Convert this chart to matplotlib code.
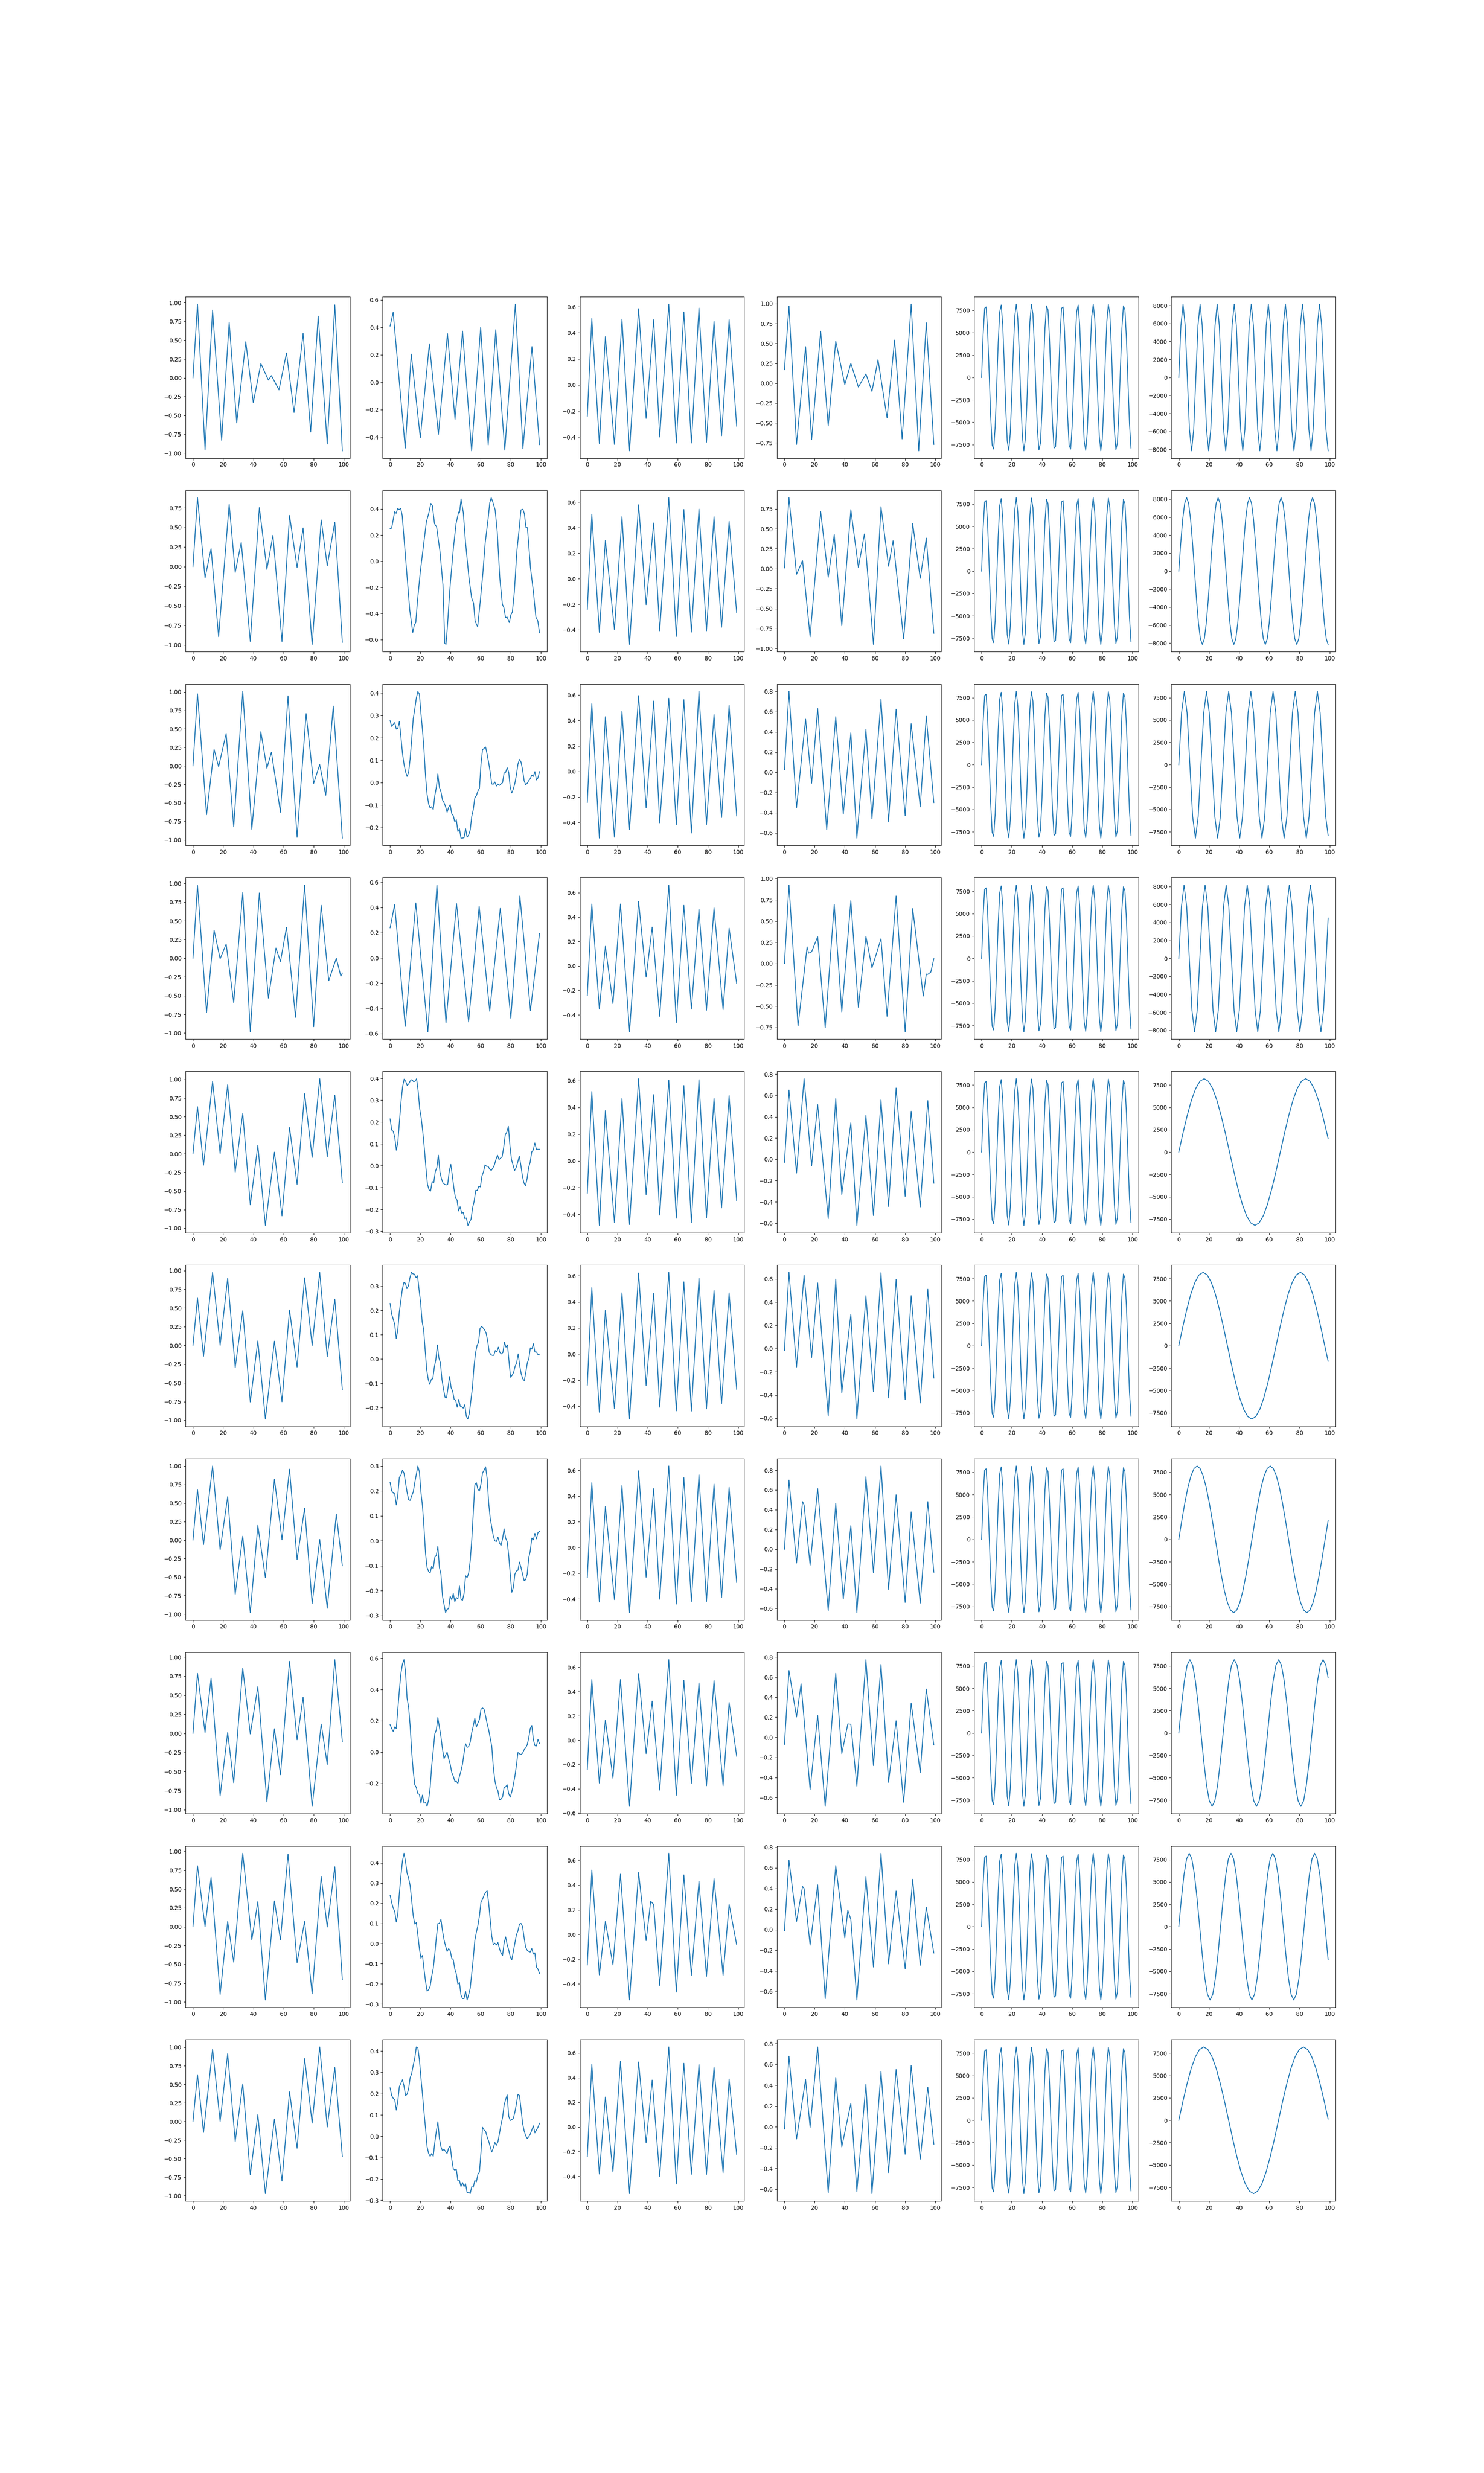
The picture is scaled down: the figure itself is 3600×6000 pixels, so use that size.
import numpy as np
import matplotlib
matplotlib.use("Agg")
import matplotlib.pyplot as plt
from matplotlib.ticker import MultipleLocator

# ---------------- column 0 (vertices) ----------------
C0_X = [
    [0,3,8,13,19,24,29,35,40,45,50,52,57,62,67,73,78,83,89,94,99],
    [0,3,8,12,17,24,28,32,38,44,49,53,59,64,69,73,79,85,89,94,99],
    [0,3,9,14,17,22,27,33,39,45,49,52,58,63,69,75,80,84,88,93,99],
    [0,3,9,14,18,22,27,33,38,44,50,55,58,62,68,74,80,85,90,95,98,99],
    [0,3,7,13,18,23,28,33,38,43,48,54,59,64,69,74,79,84,89,94,99],
    [0,3,7,13,18,23,28,33,38,43,48,54,59,64,69,74,79,84,89,94,99],
    [0,3,7,13,18,23,28,33,38,43,48,54,59,64,69,74,79,84,89,95,99],
    [0,3,8,12,18,23,27,33,38,43,49,54,58,64,69,73,79,85,89,94,99],
    [0,3,8,12,18,23,27,33,39,43,48,54,58,63,69,74,79,85,89,94,99],
    [0,3,7,13,18,23,28,33,38,43,48,54,59,64,69,74,79,84,89,94,99],
]
C0_Y = [
    [0,0.98,-0.96,0.90,-0.83,0.74,-0.60,0.48,-0.33,0.19,-0.03,0.03,-0.16,0.33,-0.46,0.59,-0.72,0.82,-0.88,0.97,-0.97],
    [0,0.88,-0.145,0.23,-0.895,0.80,-0.074,0.31,-0.956,0.754,-0.035,0.40,-0.956,0.654,-0.01,0.493,-0.995,0.596,0.01,0.567,-0.968],
    [0,0.974,-0.66,0.222,-0.01,0.438,-0.823,1.007,-0.856,0.462,-0.031,0.185,-0.628,0.946,-0.965,0.706,-0.237,0.018,-0.397,0.808,-0.976],
    [0,0.973,-0.725,0.374,-0.007,0.19,-0.593,0.877,-0.982,0.872,-0.533,0.136,-0.044,0.414,-0.789,0.978,-0.914,0.707,-0.30,0.0,-0.24,-0.198],
    [0,0.633,-0.153,0.976,0,0.928,-0.245,0.541,-0.687,0.114,-0.963,0.022,-0.834,0.354,-0.41,0.808,-0.048,1.01,-0.039,0.79,-0.389],
    [0,0.632,-0.145,0.976,0,0.897,-0.297,0.463,-0.755,0.06,-0.983,0.057,-0.751,0.473,-0.288,0.903,0,0.976,-0.15,0.619,-0.59],
    [0,0.678,-0.061,1.0,-0.133,0.586,-0.73,0.052,-0.98,0.198,-0.508,0.823,0.004,0.957,-0.262,0.429,-0.856,0.009,-0.92,0.351,-0.346],
    [0,0.786,0.011,0.724,-0.819,0.011,-0.645,0.855,-0.007,0.612,-0.896,0.061,-0.542,0.944,-0.083,0.474,-0.955,0.122,-0.406,0.966,-0.106],
    [0,0.809,0,0.656,-0.9,0.069,-0.471,0.975,-0.176,0.333,-0.973,0.342,-0.176,0.965,-0.476,0.069,-0.891,0.664,-0.004,0.796,-0.704],
    [0,0.63,-0.147,0.976,0,0.912,-0.267,0.506,-0.715,0.092,-0.971,0.033,-0.801,0.40,-0.359,0.847,-0.022,1.004,-0.074,0.727,-0.47],
]

# ---------------- column 1 ----------------
# rows with explicit x; other rows are evenly spaced readings over 0..99
C1_X = [
    [0,2,10,14,20,26,32,38,43,48,54,60,65,70,76,83,88,94,99],
    [0,1,3,4,5,6,7,8,13,15,16,17,18,20,22,24,25.6,27,28,29.4,30.8,33,35,36.2,37,38,39.2,40,42,43.7,45.4,46,47,48.5,50,52.2,54,55.3,56.3,58,59.7,61.4,63,65,66,67,68,69.6,71,72.7,74.4,75.4,76.5,77.5,79,80,81,82.3,84,85.7,86.7,88,89,90,91,93,95,96.6,97.9,99],
    None,
    [0,3,10,17,25,31,37,44,52,59,66,73,80,86,93,99],
    None, None, None, None, None, None,
]
C1_Y = [
    [0.41,0.51,-0.48,0.205,-0.405,0.28,-0.38,0.355,-0.27,0.373,-0.50,0.40,-0.457,0.383,-0.495,0.57,-0.485,0.26,-0.455],
    [0.25,0.253,0.38,0.367,0.404,0.395,0.406,0.35,-0.374,-0.545,-0.49,-0.469,-0.32,-0.08,0.11,0.30,0.367,0.443,0.425,0.288,0.262,0.078,-0.18,-0.627,-0.637,-0.495,-0.28,-0.154,0.11,0.288,0.377,0.37,0.477,0.372,0.141,-0.122,-0.28,-0.32,-0.458,-0.503,-0.311,-0.10,0.14,0.33,0.446,0.486,0.456,0.393,0.225,-0.13,-0.33,-0.355,-0.432,-0.427,-0.47,-0.41,-0.39,-0.238,0.078,0.267,0.393,0.398,0.362,0.259,0.257,-0.048,-0.238,-0.427,-0.458,-0.548],
    [0.276,0.251,0.26,0.268,0.239,0.242,0.273,0.205,0.132,0.083,
     0.049,0.028,0.046,0.107,0.193,0.285,0.328,0.377,0.407,0.395,
     0.309,0.236,0.144,0.028,-0.052,-0.095,-0.113,-0.107,-0.12,-0.058,
     -0.021,0.039,-0.021,-0.04,-0.077,-0.089,-0.107,-0.132,-0.11,-0.098,
     -0.138,-0.147,-0.175,-0.165,-0.218,-0.205,-0.247,-0.247,-0.245,-0.205,
     -0.243,-0.233,-0.211,-0.15,-0.12,-0.067,-0.058,-0.037,-0.025,0.083,
     0.147,0.153,0.159,0.126,0.089,0.046,-0.006,-0.007,0.003,-0.015,
     -0.006,-0.012,-0.006,0,0.043,0.046,0.067,0.046,-0.021,-0.046,
     -0.028,-0.003,0.034,0.083,0.104,0.092,0.058,0.009,-0.009,-0.003,
     0.009,0.018,0.034,0.028,0.049,0.012,0.021,0.049],
    [0.239,0.423,-0.543,0.436,-0.586,0.578,-0.516,0.431,-0.508,0.41,-0.423,0.393,-0.478,0.491,-0.418,0.193],
    [0.214,0.163,0.157,0.129,0.071,0.11,0.204,0.292,0.361,0.396,
     0.386,0.367,0.375,0.389,0.394,0.385,0.386,0.398,0.342,0.261,
     0.217,0.154,0.079,-0.009,-0.085,-0.11,-0.116,-0.072,-0.079,-0.028,
     -0.009,0.048,-0.028,-0.06,-0.079,-0.085,-0.088,-0.085,-0.025,0.006,
     -0.047,-0.104,-0.148,-0.157,-0.207,-0.188,-0.217,-0.214,-0.242,-0.239,
     -0.273,-0.258,-0.245,-0.192,-0.163,-0.113,-0.113,-0.094,-0.097,-0.047,
     -0.028,0.004,-0.003,-0.003,-0.016,-0.022,-0.011,0.003,0.028,0.048,
     0.028,0.035,0.041,0.085,0.141,0.154,0.18,0.091,0.028,0.003,
     -0.022,-0.009,0.016,0.044,0.003,-0.047,-0.079,-0.091,-0.06,-0.009,
     0.016,0.063,0.072,0.104,0.075,0.075,0.075],
    [0.229,0.185,0.165,0.143,0.085,0.117,0.193,0.239,0.287,0.315,
     0.312,0.29,0.301,0.335,0.357,0.351,0.349,0.335,0.343,0.284,
     0.233,0.154,0.12,0.035,-0.044,-0.084,-0.104,-0.084,-0.081,-0.033,
     -0.002,0.058,0.004,-0.016,-0.084,-0.123,-0.157,-0.16,-0.118,-0.072,
     -0.118,-0.132,-0.166,-0.169,-0.198,-0.166,-0.194,-0.197,-0.202,-0.188,
     -0.236,-0.247,-0.222,-0.169,-0.118,-0.033,0.024,0.055,0.069,0.126,
     0.134,0.128,0.12,0.106,0.075,0.029,0.019,0.015,0.015,0.035,
     0.029,0.049,0.027,0.021,0.027,0.07,0.049,0.058,-0.01,-0.075,
     -0.067,-0.055,-0.03,-0.016,0.021,-0.027,-0.061,-0.081,-0.089,-0.055,
     -0.016,0.001,0.046,0.041,0.063,0.029,0.029,0.018,0.017],
    [0.234,0.2,0.192,0.189,0.144,0.184,0.255,0.263,0.283,0.272,
     0.233,0.195,0.165,0.162,0.181,0.195,0.233,0.266,0.3,0.277,
     0.195,0.14,0.052,-0.052,-0.107,-0.123,-0.128,-0.101,-0.112,-0.066,
     -0.058,-0.022,-0.107,-0.134,-0.222,-0.255,-0.288,-0.274,-0.272,-0.222,
     -0.236,-0.211,-0.244,-0.227,-0.233,-0.181,-0.233,-0.239,-0.211,-0.14,
     -0.148,-0.129,-0.08,0.003,0.112,0.225,0.233,0.206,0.2,0.228,
     0.272,0.283,0.297,0.25,0.151,0.09,0.055,0.019,0,-0.003,
     0.015,-0.008,-0.019,0.008,0.048,0.011,-0.003,-0.058,-0.134,-0.206,
     -0.189,-0.134,-0.121,-0.118,-0.085,-0.107,-0.134,-0.159,-0.156,-0.134,
     -0.069,-0.041,0.011,0.004,0.03,0.008,0.033,0.038],
    [0.175,0.151,0.132,0.161,0.151,0.274,0.396,0.502,0.563,0.591,
     0.511,0.344,0.287,0.168,0.002,-0.121,-0.209,-0.226,-0.266,-0.27,
     -0.327,-0.275,-0.327,-0.323,-0.347,-0.305,-0.226,-0.086,0.011,0.116,
     0.142,0.221,0.16,0.098,0.019,-0.042,-0.02,0,-0.042,-0.077,
     -0.13,-0.154,-0.187,-0.187,-0.2,-0.156,-0.121,-0.077,-0.007,0.053,
     0.03,0.035,0.063,0.125,0.168,0.217,0.16,0.186,0.208,0.274,
     0.282,0.274,0.23,0.182,0.142,0.089,0.037,-0.095,-0.182,-0.226,
     -0.248,-0.305,-0.301,-0.288,-0.226,-0.222,-0.209,-0.266,-0.288,-0.254,
     -0.209,-0.156,-0.086,-0.003,-0.011,-0.016,-0.007,0.015,0.026,0.046,
     0.089,0.151,0.17,0.081,0.041,0.039,0.081,0.054],
    [0.24,0.203,0.176,0.159,0.107,0.148,0.25,0.335,0.41,0.448,
     0.407,0.349,0.325,0.288,0.213,0.138,0.097,0.104,0.043,-0.025,
     -0.073,-0.059,-0.127,-0.188,-0.236,-0.229,-0.212,-0.161,-0.124,-0.052,
     0.029,0.099,0.1,0.121,0.063,0.019,-0.012,-0.039,-0.025,-0.035,
     -0.073,-0.08,-0.127,-0.151,-0.202,-0.192,-0.256,-0.273,-0.273,-0.237,
     -0.28,-0.253,-0.222,-0.148,-0.073,0.016,0.056,0.09,0.138,0.206,
     0.22,0.24,0.254,0.262,0.199,0.118,0.036,-0.005,0.002,-0.007,
     0.005,-0.025,-0.047,-0.059,0.002,0.033,-0.005,-0.032,-0.066,-0.081,
     -0.039,0.002,0.043,0.063,0.097,0.1,0.084,0.029,-0.018,-0.033,
     -0.039,-0.042,-0.025,-0.052,-0.046,-0.117,-0.127,-0.148],
    [0.227,0.191,0.178,0.172,0.123,0.165,0.233,0.249,0.265,0.236,
     0.191,0.197,0.223,0.275,0.294,0.333,0.366,0.419,0.416,0.359,
     0.275,0.197,0.113,0.036,-0.049,-0.081,-0.094,-0.081,-0.094,-0.029,
     0.023,0.068,-0.01,-0.049,-0.068,-0.061,-0.071,-0.081,-0.055,-0.045,
     -0.107,-0.152,-0.159,-0.155,-0.21,-0.207,-0.236,-0.217,-0.236,-0.223,
     -0.265,-0.262,-0.269,-0.236,-0.239,-0.207,-0.214,-0.178,-0.168,-0.074,
     0.042,0.029,0.023,-0.003,-0.023,-0.049,-0.074,-0.055,-0.029,-0.042,
     -0.026,0.013,0.055,0.087,0.146,0.172,0.194,0.094,0.074,0.078,
     0.084,0.113,0.152,0.197,0.191,0.129,0.061,0.026,0.003,-0.01,
     -0.003,0.01,0.029,0.049,0.016,0.029,0.042,0.061],
]

# ---------------- column 2 ----------------
C2_X = [
    [0,3,8,12,18,23,28,34,39,44,48,54,59,64,69,74,79,84,89,94,99],
    [0,3,8,12,18,23,28,34,39,44,48,54,59,64,69,74,79,84,89,94,99],
    [0,3,8,12,18,23,28,34,39,44,48,54,59,64,69,74,79,84,89,94,99],
    [0,3,8,12,17,22,28,34,39,43,48,54,59,64,69,74,79,84,90,94,99],
    [0,3,8,12,18,23,28,34,39,44,48,54,59,64,69,74,79,84,89,94,99],
    [0,3,8,12,18,23,28,34,39,44,48,54,59,64,69,74,79,84,89,94,99],
    [0,3,8,12,18,23,28,34,39,44,48,54,59,64,69,74,79,84,89,94,99],
    [0,3,8,12,17,22,28,34,39,43,48,54,59,64,69,74,79,84,90,94,99],
    [0,3,8,12,17,22,28,34,39,42,44,48,54,59,64,69,74,79,84,90,94,99],
    [0,3,8,12,17,22,28,34,39,43,48,54,59,64,69,74,79,84,90,94,99],
]
C2_Y = [
    [-0.24,0.51,-0.45,0.37,-0.457,0.504,-0.506,0.585,-0.257,0.50,-0.40,0.62,-0.446,0.56,-0.446,0.59,-0.44,0.49,-0.39,0.50,-0.317],
    [-0.24,0.506,-0.42,0.30,-0.40,0.487,-0.515,0.58,-0.203,0.437,-0.408,0.635,-0.452,0.543,-0.418,0.546,-0.408,0.487,-0.38,0.45,-0.266],
    [-0.243,0.532,-0.523,0.43,-0.516,0.473,-0.455,0.596,-0.286,0.553,-0.403,0.575,-0.418,0.564,-0.483,0.629,-0.416,0.448,-0.362,0.52,-0.349],
    [-0.24,0.507,-0.353,0.161,-0.308,0.507,-0.538,0.529,-0.091,0.318,-0.412,0.662,-0.463,0.496,-0.353,0.464,-0.362,0.475,-0.358,0.31,-0.143],
    [-0.241,0.518,-0.482,0.375,-0.461,0.466,-0.476,0.614,-0.252,0.495,-0.405,0.604,-0.428,0.563,-0.461,0.607,-0.425,0.469,-0.351,0.488,-0.298],
    [-0.238,0.509,-0.446,0.336,-0.418,0.469,-0.498,0.621,-0.241,0.465,-0.407,0.626,-0.435,0.553,-0.437,0.582,-0.42,0.488,-0.38,0.469,-0.27],
    [-0.234,0.504,-0.425,0.319,-0.406,0.482,-0.508,0.597,-0.232,0.458,-0.403,0.634,-0.441,0.543,-0.421,0.565,-0.421,0.493,-0.39,0.468,-0.273],
    [-0.24,0.50,-0.353,0.167,-0.313,0.50,-0.545,0.549,-0.11,0.322,-0.411,0.664,-0.454,0.493,-0.355,0.472,-0.375,0.493,-0.375,0.311,-0.132],
    [-0.247,0.522,-0.328,0.106,-0.247,0.489,-0.531,0.502,-0.05,0.269,0.244,-0.413,0.658,-0.467,0.483,-0.331,0.431,-0.339,0.453,-0.331,0.244,-0.083],
    [-0.239,0.508,-0.381,0.243,-0.364,0.533,-0.54,0.527,-0.129,0.38,-0.40,0.649,-0.462,0.516,-0.383,0.506,-0.384,0.486,-0.37,0.389,-0.222],
]

# ---------------- column 3 ----------------
C3_X = [
    [0,3,8,14,18,24,29,34,40,44,49,54,58,62,68,73,78,84,89,94,99],
    [0,3,8,12,17,24,29,33,38,44,49,53,59,64,69,72,79,85,90,94,99],
    [0,3,8,14,18,22,28,34,39,44,48,54,58,64,69,74,80,84,90,94,99],
    [0,3,9,15,16,18,22,27,33,38,44,49,54,58,64,68,74,80,85,92,94,95,97,99],
    [0,3,8,13,18,22,29,34,38,44,48,54,59,64,69,74,80,84,90,95,99],
    [0,3,8,13,18,22,29,34,38,44,48,54,59,64,69,74,80,84,90,95,99],
    [0,3,8,12,13,17,22,29,34,39,44,48,54,59,64,69,74,80,84,90,95,99],
    [0,3,8,11,17,22,27,34,38,42,44,48,54,59,64,69,74,79,84,90,94,99],
    [0,3,8,12,13,17,22,27,34,40,42,44,48,54,59,64,69,74,80,85,90,94,99],
    [0,3,8,14,17,22,29,34,38,44,48,54,58,64,69,74,80,84,90,95,99],
]
C3_Y = [
    [0.17,0.97,-0.77,0.46,-0.71,0.654,-0.537,0.53,-0.017,0.25,-0.048,0.117,-0.103,0.296,-0.434,0.542,-0.70,0.995,-0.85,0.76,-0.77],
    [0.01,0.89,-0.07,0.10,-0.853,0.717,-0.107,0.428,-0.716,0.741,0.017,0.436,-0.95,0.778,0.031,0.35,-0.88,0.566,-0.12,0.384,-0.81],
    [0.024,0.80,-0.35,0.525,-0.109,0.631,-0.567,0.55,-0.414,0.39,-0.651,0.425,-0.461,0.722,-0.491,0.624,-0.43,0.48,-0.342,0.554,-0.30],
    [0,0.923,-0.732,0.197,0.123,0.139,0.316,-0.752,0.695,-0.566,0.74,-0.513,0.321,-0.05,0.292,-0.618,0.794,-0.80,0.647,-0.381,-0.123,-0.126,-0.10,0.058],
    [-0.028,0.651,-0.129,0.758,-0.061,0.515,-0.557,0.571,-0.331,0.343,-0.621,0.414,-0.528,0.558,-0.443,0.67,-0.348,0.452,-0.447,0.552,-0.224],
    [-0.015,0.657,-0.159,0.634,-0.077,0.566,-0.581,0.599,-0.383,0.295,-0.607,0.456,-0.371,0.654,-0.425,0.596,-0.44,0.456,-0.468,0.511,-0.254],
    [0,0.70,-0.14,0.482,0.45,-0.161,0.614,-0.622,0.465,-0.504,0.239,-0.643,0.735,-0.238,0.843,-0.407,0.551,-0.539,0.378,-0.546,0.482,-0.233],
    [-0.07,0.665,0.203,0.533,-0.52,0.219,-0.687,0.638,-0.162,0.134,0.131,-0.485,0.774,-0.281,0.726,-0.448,0.165,-0.646,0.342,-0.353,0.481,-0.076],
    [-0.009,0.672,0.08,0.419,0.40,-0.15,0.435,-0.669,0.622,-0.08,0.19,0.10,-0.682,0.512,-0.363,0.741,-0.332,0.375,-0.379,0.489,-0.346,0.219,-0.226],
    [-0.02,0.68,-0.116,0.456,-0.004,0.769,-0.634,0.476,-0.192,0.227,-0.621,0.412,-0.641,0.532,-0.439,0.552,-0.262,0.59,-0.31,0.383,-0.165],
]

# ---------------- column 4 (same series in every row, x = 0..99) ----------------
C4_Y = [
    0, 4740, 7733, 7888, 5141, 508, -4321, -7560, -8011, -5510,
    -1009, 3879, 7339, 8102, 5879, 1509, -3428, -7101, -8159, -6232,
    -2009, 2960, 6839, 8200, 6544, 2485, -2485, -6544, -8200, -6839,
    -2960, 2009, 6232, 8159, 7101, 3428, -1509, -5879, -8102, -7339,
    -3879, 1009, 5510, 8011, 7560, 4321, -508, -5141, -7888, -7733,
    -4740,
    0, 4740, 7733, 7888, 5141, 508, -4321, -7560, -8011, -5510,
    -1009, 3879, 7339, 8102, 5879, 1509, -3428, -7101, -8159, -6232,
    -2009, 2960, 6839, 8200, 6544, 2485, -2485, -6544, -8200, -6839,
    -2960, 2009, 6232, 8159, 7101, 3428, -1509, -5879, -8102, -7339,
    -3879, 1009, 5510, 8011, 7560, 4321, -508, -5141, -7888,
]

# ---------------- column 5 (vertices) ----------------
C5_X = [
    [0,1.41,2.83,4.24,5.66,7.07,8.48,9.90,11.31,12.72,14.14,15.55,16.97,18.38,19.79,21.21,22.62,24.03,25.45,26.86,
     28.28,29.69,31.10,32.52,33.93,35.34,36.76,38.17,39.59,41.00,42.41,43.83,45.24,46.65,48.07,49.48,50.90,52.31,53.72,55.14,
     56.55,57.96,59.38,60.79,62.21,63.62,65.03,66.45,67.86,69.27,70.69,72.10,73.52,74.93,76.34,77.76,79.17,80.58,82.00,83.41,
     84.83,86.24,87.65,89.07,90.48,91.89,93.31,94.72,96.14,97.55,99],
    [0,1.30,2.61,3.91,5.22,6.52,7.82,9.13,10.43,11.73,13.04,14.34,15.65,16.95,18.25,19.56,20.86,22.16,23.47,24.77,
     26.08,27.38,28.68,29.99,31.29,32.59,33.90,35.20,36.51,37.81,39.11,40.42,41.72,43.02,44.33,45.63,46.94,48.24,49.54,50.85,
     52.15,53.45,54.76,56.06,57.37,58.67,59.97,61.28,62.58,63.88,65.19,66.49,67.80,69.10,70.40,71.71,73.01,74.31,75.62,76.92,
     78.23,79.53,80.83,82.14,83.44,84.74,86.05,87.35,88.66,89.96,91.26,92.57,93.87,95.17,96.48,97.78,99],
    [0,1.84,3.68,5.51,7.35,9.19,11.03,12.86,14.70,16.54,18.38,20.21,22.05,23.89,25.73,27.56,29.40,31.24,33.08,34.91,
     36.75,38.59,40.43,42.26,44.10,45.94,47.78,49.61,51.45,53.29,55.13,56.96,58.80,60.64,62.48,64.31,66.15,67.99,69.83,71.66,
     73.50,75.34,77.18,79.01,80.85,82.69,84.53,86.36,88.20,90.04,91.88,93.71,95.55,97.39,99],
    [0,1.75,3.49,5.24,6.98,8.73,10.47,12.22,13.96,15.71,17.45,19.20,20.94,22.69,24.43,26.18,27.92,29.67,31.41,33.16,
     34.90,36.65,38.39,40.14,41.88,43.63,45.37,47.12,48.86,50.61,52.35,54.10,55.84,57.59,59.33,61.08,62.82,64.57,66.31,68.06,
     69.80,71.55,73.29,75.04,76.78,78.53,80.27,82.02,83.76,85.51,87.25,89.00,90.74,92.49,94.23,95.98,97.72,99],
    [0,2.80,5.61,8.41,11.22,14.02,16.83,19.63,22.43,25.24,28.04,30.85,33.65,36.45,39.26,42.06,44.87,47.67,50.48,53.28,
     56.08,58.89,61.69,64.50,67.30,70.10,72.91,75.71,78.52,81.32,84.13,86.93,89.73,92.54,95.34,98.15,99],
    [0,2.69,5.38,8.06,10.75,13.44,16.13,18.81,21.50,24.19,26.88,29.56,32.25,34.94,37.63,40.31,43.00,45.69,48.38,51.06,
     53.75,56.44,59.13,61.81,64.50,67.19,69.88,72.56,75.25,77.94,80.63,83.31,86.00,88.69,91.38,94.06,96.75,99],
    [0,2.02,4.04,6.06,8.08,10.10,12.13,14.15,16.17,18.19,20.21,22.23,24.25,26.27,28.29,30.31,32.33,34.35,36.38,38.40,
     40.42,42.44,44.46,46.48,48.50,50.52,52.54,54.56,56.58,58.60,60.63,62.65,64.67,66.69,68.71,70.73,72.75,74.77,76.79,78.81,
     80.83,82.85,84.88,86.90,88.92,90.94,92.96,94.98,97.00,99],
    [0,1.84,3.68,5.52,7.36,9.20,11.04,12.88,14.72,16.55,18.39,20.23,22.07,23.91,25.75,27.59,29.43,31.27,33.11,34.95,
     36.79,38.63,40.47,42.31,44.15,45.99,47.82,49.66,51.50,53.34,55.18,57.02,58.86,60.70,62.54,64.38,66.22,68.06,69.90,71.74,
     73.58,75.42,77.25,79.09,80.93,82.77,84.61,86.45,88.29,90.13,91.97,93.81,95.65,97.49,99],
    [0,1.73,3.46,5.19,6.93,8.66,10.39,12.12,13.85,15.58,17.31,19.04,20.78,22.51,24.24,25.97,27.70,29.43,31.16,32.89,
     34.63,36.36,38.09,39.82,41.55,43.28,45.01,46.74,48.48,50.21,51.94,53.67,55.40,57.13,58.86,60.59,62.33,64.06,65.79,67.52,
     69.25,70.98,72.71,74.44,76.18,77.91,79.64,81.37,83.10,84.83,86.56,88.29,90.03,91.76,93.49,95.22,96.95,98.68,99],
    [0,2.75,5.51,8.26,11.02,13.77,16.53,19.28,22.03,24.79,27.54,30.30,33.05,35.80,38.56,41.31,44.07,46.82,49.58,52.33,
     55.08,57.84,60.59,63.35,66.10,68.85,71.61,74.36,77.12,79.87,82.63,85.38,88.13,90.89,93.64,96.40,99],
]
C5_Y = [
    [0,5763,8150,5763,0,-5763,-8150,-5763, 0,5763,8150,5763,0,-5763,-8150,-5763,
     0,5763,8150,5763,0,-5763,-8150,-5763, 0,5763,8150,5763,0,-5763,-8150,-5763,
     0,5763,8150,5763,0,-5763,-8150,-5763, 0,5763,8150,5763,0,-5763,-8150,-5763,
     0,5763,8150,5763,0,-5763,-8150,-5763, 0,5763,8150,5763,0,-5763,-8150,-5763,
     0,5763,8150,5763,0,-5763,-8150],
    [0,3119,5763,7530,8150,7530,5763,3119,0,-3119,-5763,-7530,-8150,-7530,-5763,-3119,
     0,3119,5763,7530,8150,7530,5763,3119,0,-3119,-5763,-7530,-8150,-7530,-5763,-3119,
     0,3119,5763,7530,8150,7530,5763,3119,0,-3119,-5763,-7530,-8150,-7530,-5763,-3119,
     0,3119,5763,7530,8150,7530,5763,3119,0,-3119,-5763,-7530,-8150,-7530,-5763,-3119,
     0,3119,5763,7530,8150,7530,5763,3119,0,-3119,-5763,-7530,-8150],
    [0,5798,8200,5798,0,-5798,-8200,-5798, 0,5798,8200,5798,0,-5798,-8200,-5798,
     0,5798,8200,5798,0,-5798,-8200,-5798, 0,5798,8200,5798,0,-5798,-8200,-5798,
     0,5798,8200,5798,0,-5798,-8200,-5798, 0,5798,8200,5798,0,-5798,-8200,-5798,
     0,5798,8200,5798,0,-5798,-7900],
    [0,5763,8150,5763,0,-5763,-8150,-5763, 0,5763,8150,5763,0,-5763,-8150,-5763,
     0,5763,8150,5763,0,-5763,-8150,-5763, 0,5763,8150,5763,0,-5763,-8150,-5763,
     0,5763,8150,5763,0,-5763,-8150,-5763, 0,5763,8150,5763,0,-5763,-8150,-5763,
     0,5763,8150,5763,0,-5763,-8150,-5763, 0, 4480],
    [0,2122,4100,5798,7101,7920,8200,7920,7101,5798,4100,2122,0,-2122,-4100,-5798,-7101,-7920,-8200,-7920,-7101,-5798,-4100,-2122,
     0,2122,4100,5798,7101,7920,8200,7920,7101,5798,4100,2122, 1490],
    [0,2122,4100,5798,7101,7920,8200,7920,7101,5798,4100,2122,0,-2122,-4100,-5798,-7101,-7920,-8200,-7920,-7101,-5798,-4100,-2122,
     0,2122,4100,5798,7101,7920,8200,7920,7101,5798,4100,2122,0, -1740],
    [0,2122,4100,5798,7101,7920,8200,7920,7101,5798,4100,2122,0,-2122,-4100,-5798,-7101,-7920,-8200,-7920,-7101,-5798,-4100,-2122,
     0,2122,4100,5798,7101,7920,8200,7920,7101,5798,4100,2122,0,-2122,-4100,-5798,-7101,-7920,-8200,-7920,-7101,-5798,-4100,-2122,
     0, 2090],
    [0,3138,5798,7576,8200,7576,5798,3138,0,-3138,-5798,-7576,-8200,-7576,-5798,-3138,
     0,3138,5798,7576,8200,7576,5798,3138,0,-3138,-5798,-7576,-8200,-7576,-5798,-3138,
     0,3138,5798,7576,8200,7576,5798,3138,0,-3138,-5798,-7576,-8200,-7576,-5798,-3138,
     0,3138,5798,7576,8200,7576, 6150],
    [0,3138,5798,7576,8200,7576,5798,3138,0,-3138,-5798,-7576,-8200,-7576,-5798,-3138,
     0,3138,5798,7576,8200,7576,5798,3138,0,-3138,-5798,-7576,-8200,-7576,-5798,-3138,
     0,3138,5798,7576,8200,7576,5798,3138,0,-3138,-5798,-7576,-8200,-7576,-5798,-3138,
     0,3138,5798,7576,8200,7576,5798,3138,0,-3138, -3700],
    [0,2122,4100,5798,7101,7920,8200,7920,7101,5798,4100,2122,0,-2122,-4100,-5798,-7101,-7920,-8200,-7920,-7101,-5798,-4100,-2122,
     0,2122,4100,5798,7101,7920,8200,7920,7101,5798,4100,2122, 140],
]
C5_TICK_STEP = [2000, 2000, 2500, 2000, 2500, 2500, 2500, 2500, 2500, 2500]

fig, axes = plt.subplots(10, 6, figsize=(36, 60))

for r in range(10):
    c1x = C1_X[r] if C1_X[r] is not None else np.linspace(0, 99, len(C1_Y[r]))
    panels = [
        (C0_X[r], C0_Y[r]),
        (c1x, C1_Y[r]),
        (C2_X[r], C2_Y[r]),
        (C3_X[r], C3_Y[r]),
        (np.arange(len(C4_Y)), C4_Y),
        (C5_X[r], C5_Y[r]),
    ]
    for c, (x, y) in enumerate(panels):
        n = min(len(x), len(y))
        axes[r, c].plot(np.asarray(x[:n], dtype=float), np.asarray(y[:n], dtype=float))
    axes[r, 4].yaxis.set_major_locator(MultipleLocator(2500))
    axes[r, 5].yaxis.set_major_locator(MultipleLocator(C5_TICK_STEP[r]))

fig.savefig("out.png", dpi=100)
